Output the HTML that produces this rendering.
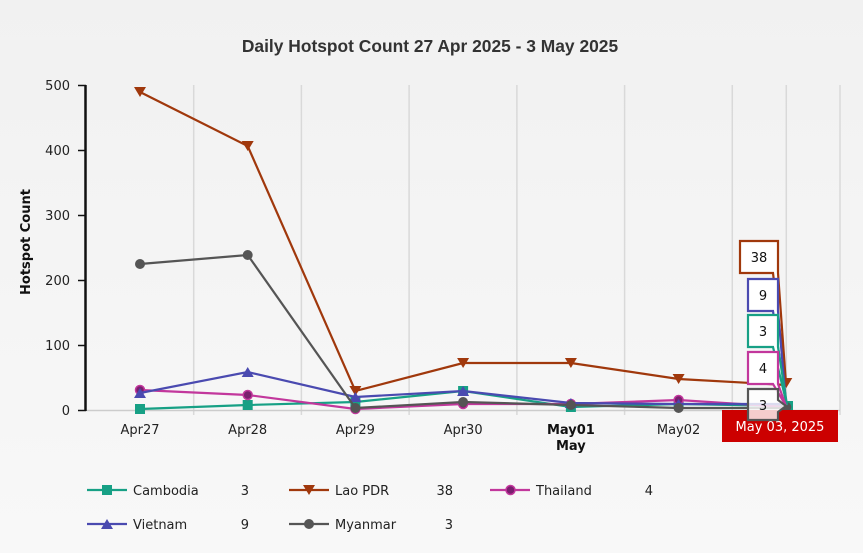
<!DOCTYPE html>
<html><head><meta charset="utf-8"><style>
html,body{margin:0;padding:0;}
body{width:863px;height:553px;overflow:hidden;background:#f4f4f4;}
svg{display:block;}
text{font-family:"DejaVu Sans","Liberation Sans",sans-serif;}
</style></head><body>
<svg width="863" height="553" viewBox="0 0 863 553" xmlns="http://www.w3.org/2000/svg">
<defs>
<linearGradient id="bg" x1="0" y1="0" x2="0" y2="1">
<stop offset="0" stop-color="#f1f1f1"/><stop offset="1" stop-color="#f8f8f8"/>
</linearGradient>
</defs>
<rect x="0" y="0" width="863" height="553" fill="url(#bg)"/>
<text x="430" y="52" text-anchor="middle" font-family="Liberation Sans, Arial, sans-serif" style="font-family:'Liberation Sans',Arial,sans-serif" font-size="17.4" font-weight="bold" fill="#333">Daily Hotspot Count 27 Apr 2025 - 3 May 2025</text>

<!-- grid -->
<g stroke="#d9d9d9" stroke-width="1.5">
<line x1="193.7" y1="85" x2="193.7" y2="415"/>
<line x1="301.4" y1="85" x2="301.4" y2="415"/>
<line x1="409.1" y1="85" x2="409.1" y2="415"/>
<line x1="516.9" y1="85" x2="516.9" y2="415"/>
<line x1="624.6" y1="85" x2="624.6" y2="415"/>
<line x1="732.3" y1="85" x2="732.3" y2="415"/>
<line x1="840" y1="85" x2="840" y2="415"/>
<line x1="786.3" y1="85" x2="786.3" y2="410"/>
</g>
<line x1="86" y1="410.5" x2="840" y2="410.5" stroke="#cccccc" stroke-width="1.5"/>
<!-- y axis -->
<line x1="85.5" y1="85" x2="85.5" y2="411" stroke="#111" stroke-width="2.5"/>
<g stroke="#111" stroke-width="1.5">
<line x1="78" y1="85.5" x2="86" y2="85.5"/>
<line x1="78" y1="150.5" x2="86" y2="150.5"/>
<line x1="78" y1="215.5" x2="86" y2="215.5"/>
<line x1="78" y1="280.5" x2="86" y2="280.5"/>
<line x1="78" y1="345.5" x2="86" y2="345.5"/>
<line x1="78" y1="410.5" x2="86" y2="410.5"/>
</g>
<g font-size="13" fill="#222" text-anchor="end">
<text x="70" y="90">500</text>
<text x="70" y="155">400</text>
<text x="70" y="220">300</text>
<text x="70" y="285">200</text>
<text x="70" y="350">100</text>
<text x="70" y="415">0</text>
</g>
<text transform="translate(30,242) rotate(-90)" text-anchor="middle" font-size="13" font-weight="bold" fill="#111">Hotspot Count</text>

<!-- x labels -->
<g font-size="13" fill="#222" text-anchor="middle">
<text x="140" y="434">Apr27</text>
<text x="247.7" y="434">Apr28</text>
<text x="355.4" y="434">Apr29</text>
<text x="463.1" y="434">Apr30</text>
<text x="570.9" y="434" font-weight="bold" fill="#111">May01</text>
<text x="570.9" y="450" font-weight="bold" fill="#111">May</text>
<text x="678.6" y="434">May02</text>
</g>

<!-- series -->
<!-- Cambodia -->
<polyline fill="none" stroke="#17a085" stroke-width="2.2" points="140,409 247.7,405 355.4,402 463.1,391 570.9,407 678.6,404 786.3,406"/>
<g fill="#17a085">
<rect x="135" y="404" width="10" height="10"/><rect x="242.7" y="400" width="10" height="10"/><rect x="350.4" y="397" width="10" height="10"/><rect x="458.1" y="386" width="10" height="10"/><rect x="565.9" y="402" width="10" height="10"/><rect x="673.6" y="399" width="10" height="10"/><rect x="783" y="401" width="10" height="10"/>
</g>
<!-- Lao -->
<polyline fill="none" stroke="#a0380c" stroke-width="2.2" points="140,92 247.7,146 355.4,391 463.1,363 570.9,363 678.6,379 786.3,385"/>
<g fill="#a0380c">
<polygon points="134,87 146,87 140,97"/><polygon points="241.7,141 253.7,141 247.7,151"/><polygon points="349.4,386 361.4,386 355.4,396"/><polygon points="457.1,358 469.1,358 463.1,368"/><polygon points="564.9,358 576.9,358 570.9,368"/><polygon points="672.6,374 684.6,374 678.6,384"/><polygon points="780.3,378 792.3,378 786.3,388"/>
</g>
<!-- Thailand -->
<polyline fill="none" stroke="#c2379c" stroke-width="2.2" points="140,390 247.7,395 355.4,409 463.1,404 570.9,404 678.6,400 786.3,407"/>
<g fill="#7a1e6e" stroke="#c2379c" stroke-width="1.5">
<circle cx="140" cy="390" r="4.5"/><circle cx="247.7" cy="395" r="4.5"/><circle cx="355.4" cy="409" r="4.5"/><circle cx="463.1" cy="404" r="4.5"/><circle cx="570.9" cy="404" r="4.5"/><circle cx="678.6" cy="400" r="4.5"/>
</g>
<!-- Vietnam -->
<polyline fill="none" stroke="#4a4ab0" stroke-width="2.2" points="140,393 247.7,372 355.4,397 463.1,391 570.9,403 678.6,404 786.3,404"/>
<g fill="#4a4ab0">
<polygon points="134,398 146,398 140,388"/><polygon points="241.7,377 253.7,377 247.7,367"/><polygon points="349.4,402 361.4,402 355.4,392"/><polygon points="457.1,396 469.1,396 463.1,386"/><polygon points="564.9,408 576.9,408 570.9,398"/><polygon points="672.6,409 684.6,409 678.6,399"/>
</g>
<!-- Myanmar -->
<polyline fill="none" stroke="#555" stroke-width="2.2" points="140,264 247.7,255 355.4,408 463.1,402 570.9,405 678.6,408 786.3,408"/>
<g fill="#555">
<circle cx="140" cy="264" r="5"/><circle cx="247.7" cy="255" r="5"/><circle cx="355.4" cy="408" r="5"/><circle cx="463.1" cy="402" r="5"/><circle cx="570.9" cy="405" r="5"/><circle cx="678.6" cy="408" r="5"/><circle cx="786.3" cy="407" r="5"/>
</g>

<!-- red date label -->
<rect x="722" y="410" width="116" height="32" fill="#cc0000"/>
<text x="780" y="431" text-anchor="middle" font-size="13" fill="#fff">May 03, 2025</text>

<!-- tooltips -->
<g stroke-width="2.2" stroke-linejoin="miter">
<path d="M740,241 H778 V273 L786,384 L773,273 H740 Z" fill="#fff" stroke="#a0380c"/>
<path d="M748,279 H778 V311 L786,403 L773,311 H748 Z" fill="#fff" stroke="#4a4ab0"/>
<path d="M748,315 H778 V347 L787,405 L773,347 H748 Z" fill="#fff" stroke="#17a085"/>
<path d="M748,352 H778 V384 L786,406 L773,384 H748 Z" fill="#fff" stroke="#c2379c"/>
<path d="M748,389 H778 V400 L786,406 L778,412 V420 H748 Z" fill="rgba(255,255,255,0.8)" stroke="#555"/>
</g>
<g font-size="13" fill="#111" text-anchor="middle">
<text x="759" y="262">38</text>
<text x="763" y="300">9</text>
<text x="763" y="336">3</text>
<text x="763" y="373">4</text>
<text x="763" y="410">3</text>
</g>

<!-- legend -->
<g stroke-width="2.2">
<line x1="87" y1="490" x2="127" y2="490" stroke="#17a085"/>
<line x1="289" y1="490" x2="329" y2="490" stroke="#a0380c"/>
<line x1="490" y1="490" x2="530" y2="490" stroke="#c2379c"/>
<line x1="87" y1="524" x2="127" y2="524" stroke="#4a4ab0"/>
<line x1="289" y1="524" x2="329" y2="524" stroke="#555"/>
</g>
<rect x="102" y="485" width="10" height="10" fill="#17a085"/>
<polygon points="303,485 315,485 309,495" fill="#a0380c"/>
<circle cx="510.5" cy="490" r="4.5" fill="#7a1e6e" stroke="#c2379c" stroke-width="1.5"/>
<polygon points="101,529 113,529 107,519" fill="#4a4ab0"/>
<circle cx="309" cy="524" r="5" fill="#555"/>
<g font-size="13" fill="#222">
<text x="133" y="495">Cambodia</text>
<text x="335" y="495">Lao PDR</text>
<text x="536" y="495">Thailand</text>
<text x="133" y="529">Vietnam</text>
<text x="335" y="529">Myanmar</text>
</g>
<g font-size="13" fill="#222" text-anchor="end">
<text x="249" y="495">3</text>
<text x="453" y="495">38</text>
<text x="653" y="495">4</text>
<text x="249" y="529">9</text>
<text x="453" y="529">3</text>
</g>
</svg>
</body></html>
